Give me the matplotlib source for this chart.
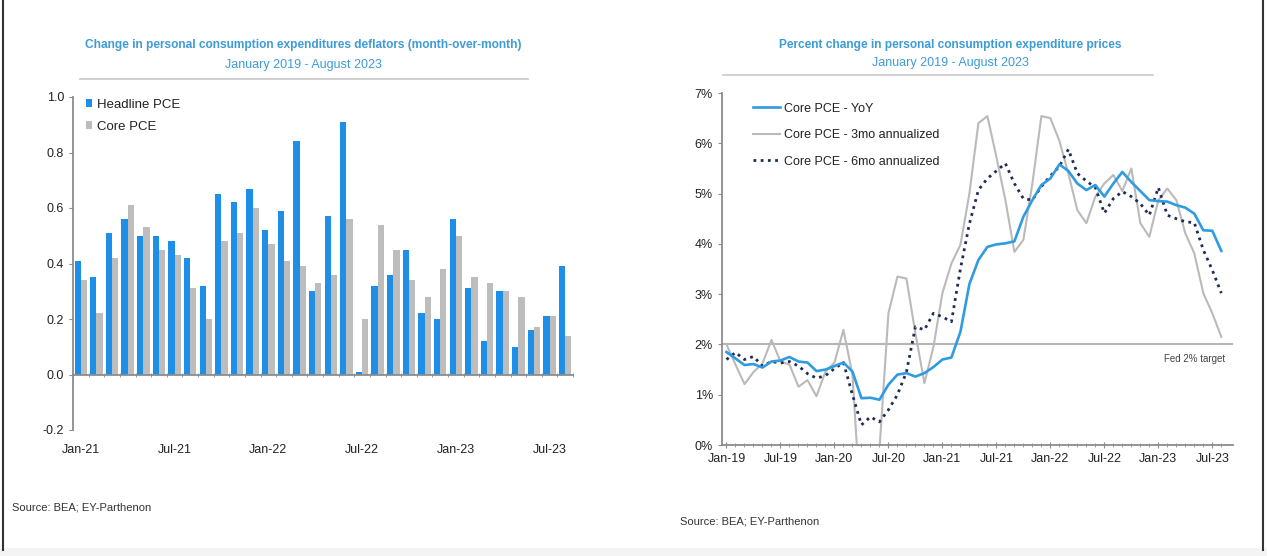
import numpy as np
import matplotlib.pyplot as plt
from matplotlib.lines import Line2D
from matplotlib.patches import Rectangle

plt.rcParams['font.family'] = ['Liberation Sans', 'DejaVu Sans']

# left chart: monthly change in PCE deflators, Jan-21 .. Aug-23
bar_labels = ['Jan-21', 'Jul-21', 'Jan-22', 'Jul-22', 'Jan-23', 'Jul-23']
headline = [0.41, 0.35, 0.51, 0.56, 0.50, 0.50, 0.48, 0.42, 0.32, 0.65, 0.62, 0.67,
            0.52, 0.59, 0.84, 0.30, 0.57, 0.91, 0.01, 0.32, 0.36, 0.45, 0.22, 0.20,
            0.56, 0.31, 0.12, 0.30, 0.10, 0.16, 0.21, 0.39]
core = [0.34, 0.22, 0.42, 0.61, 0.53, 0.45, 0.43, 0.31, 0.20, 0.48, 0.51, 0.60,
        0.47, 0.41, 0.39, 0.33, 0.36, 0.56, 0.20, 0.54, 0.45, 0.34, 0.28, 0.38,
        0.50, 0.35, 0.33, 0.30, 0.28, 0.17, 0.21, 0.14]

# right chart: percent change in core PCE prices, Jan-19 .. Aug-23
line_labels = ['Jan-19', 'Jul-19', 'Jan-20', 'Jul-20', 'Jan-21', 'Jul-21',
               'Jan-22', 'Jul-22', 'Jan-23', 'Jul-23']
yoy = [1.85, 1.72, 1.59, 1.61, 1.54, 1.66, 1.68, 1.75, 1.66, 1.64, 1.47, 1.50,
       1.57, 1.64, 1.46, 0.93, 0.94, 0.90, 1.20, 1.40, 1.43, 1.36, 1.43, 1.55,
       1.70, 1.74, 2.25, 3.20, 3.68, 3.94, 3.99, 4.01, 4.05, 4.54, 4.87, 5.17,
       5.30, 5.58, 5.45, 5.20, 5.07, 5.17, 4.94, 5.20, 5.43, 5.23, 5.05, 4.87,
       4.85, 4.84, 4.77, 4.72, 4.60, 4.27, 4.26, 3.86]
ann3 = [2.00, 1.60, 1.21, 1.45, 1.62, 2.09, 1.66, 1.60, 1.16, 1.29, 0.97, 1.46,
        1.64, 2.29, 1.40, -1.50, -1.00, -0.10, 2.62, 3.35, 3.31, 2.22, 1.23, 1.95,
        3.02, 3.61, 3.98, 5.00, 6.40, 6.54, 5.73, 4.87, 3.84, 4.08, 5.20, 6.54,
        6.50, 6.05, 5.40, 4.67, 4.41, 4.94, 5.20, 5.37, 5.05, 5.50, 4.41, 4.14,
        4.87, 5.10, 4.87, 4.21, 3.81, 3.02, 2.62, 2.15]
ann6 = [1.70, 1.84, 1.70, 1.76, 1.57, 1.66, 1.63, 1.66, 1.57, 1.42, 1.33, 1.38,
        1.52, 1.64, 1.00, 0.40, 0.56, 0.46, 0.70, 1.00, 1.45, 2.35, 2.29, 2.62,
        2.55, 2.45, 3.50, 4.40, 5.07, 5.30, 5.45, 5.60, 5.20, 4.90, 4.87, 5.14,
        5.35, 5.54, 5.88, 5.40, 5.25, 5.12, 4.61, 4.90, 5.04, 4.94, 4.80, 4.57,
        5.12, 4.57, 4.50, 4.44, 4.42, 3.88, 3.48, 3.02]

title_col = '#3d9bd6'
axis_col = '#8c8c8c'
text_col = '#222222'

fig = plt.figure(figsize=(12.67, 5.56), dpi=100)
W, H = 1267, 556

def px_axes(l, t, r, b):
    return fig.add_axes([l / W, 1 - b / H, (r - l) / W, (b - t) / H])

# ---------------- left chart ----------------
ax1 = px_axes(73, 97, 573, 430)
n = len(headline)
x = np.arange(n)
ax1.bar(x - 0.2, headline, width=0.4, color='#1e8fe8', label='Headline PCE')
ax1.bar(x + 0.2, core, width=0.4, color='#bdbdbd', label='Core PCE')
ax1.set_xlim(-0.5, n - 0.5)
ax1.set_ylim(-0.2, 1.0)
ax1.set_yticks(np.arange(-0.2, 1.01, 0.2))
ax1.set_yticklabels([f'{v:.1f}' for v in np.arange(-0.2, 1.01, 0.2)])
ax1.set_xticks(np.arange(0, n, 6))
ax1.set_xticklabels(bar_labels)
ax1.set_xticks(np.arange(-0.5, n, 1), minor=True)
for s in ['top', 'right']:
    ax1.spines[s].set_visible(False)
ax1.spines['bottom'].set_position(('data', 0))
for s in ['left', 'bottom']:
    ax1.spines[s].set_color(axis_col)
    ax1.spines[s].set_linewidth(1.3)
ax1.tick_params(axis='x', which='major', length=0, pad=50, labelsize=9, labelcolor=text_col)
ax1.tick_params(axis='x', which='minor', length=3, direction='inout', color=axis_col)
ax1.tick_params(axis='y', length=3, color=axis_col, labelsize=9, labelcolor=text_col)
ax1.legend(loc='upper left', bbox_to_anchor=(0.025, 0.995), frameon=False, fontsize=9.5,
           handlelength=0.5, handleheight=0.5, handletextpad=0.35, labelspacing=0.75,
           borderpad=0, borderaxespad=0, labelcolor=text_col)

fig.text(303 / W, 1 - 45 / H, 'Change in personal consumption expenditures deflators (month-over-month)',
         ha='center', va='center', fontsize=8.6, fontweight='bold', color=title_col)
fig.text(303 / W, 1 - 65 / H, 'January 2019 - August 2023', ha='center', va='center',
         fontsize=9, color=title_col)
fig.add_artist(Line2D([80 / W, 528 / W], [1 - 79 / H] * 2, color='#c8c8c8', lw=1.2))
fig.text(12 / W, 1 - 508 / H, 'Source: BEA; EY-Parthenon', ha='left', va='center',
         fontsize=8, color='#333333')

# ---------------- right chart ----------------
ax2 = px_axes(722, 93, 1233, 445)
m = np.arange(len(yoy))
ax2.axhline(2, color='#b5b5b5', lw=1.5, zorder=1)
ax2.plot(m, yoy, color='#2f9be0', lw=1.9, label='Core PCE - YoY', zorder=4)
ax2.plot(m, ann3, color='#bababa', lw=1.5, label='Core PCE - 3mo annualized', zorder=2)
ax2.plot(m, ann6, color='#1f2d55', lw=2.0, linestyle=(0, (1, 1.6)),
         label='Core PCE - 6mo annualized', zorder=3)
ax2.set_xlim(-0.5, len(yoy) + 0.3)
ax2.set_ylim(0, 7)
ax2.set_yticks(range(0, 8))
ax2.set_yticklabels([f'{v}%' for v in range(0, 8)])
ax2.set_xticks(np.arange(0, len(yoy), 6))
ax2.set_xticklabels(line_labels)
ax2.set_xticks(m, minor=True)
for s in ['top', 'right']:
    ax2.spines[s].set_visible(False)
for s in ['left', 'bottom']:
    ax2.spines[s].set_color(axis_col)
    ax2.spines[s].set_linewidth(1.3)
ax2.tick_params(axis='x', which='major', length=5, direction='inout', color=axis_col,
                labelsize=9, labelcolor=text_col, pad=3)
ax2.tick_params(axis='x', which='minor', length=3, direction='inout', color=axis_col)
ax2.tick_params(axis='y', length=3, color=axis_col, labelsize=9, labelcolor=text_col)
ax2.text(0.985, 1.72, 'Fed 2% target', transform=ax2.get_yaxis_transform(),
         ha='right', va='center', fontsize=7, color='#444444')
ax2.legend(loc='upper left', bbox_to_anchor=(0.06, 0.972), frameon=False, fontsize=9,
           handlelength=2.2, handletextpad=0.3, labelspacing=1.15,
           borderpad=0, borderaxespad=0, labelcolor=text_col)

fig.text(950 / W, 1 - 45 / H, 'Percent change in personal consumption expenditure prices',
         ha='center', va='center', fontsize=8.6, fontweight='bold', color=title_col)
fig.text(950 / W, 1 - 63 / H, 'January 2019 - August 2023', ha='center', va='center',
         fontsize=9, color=title_col)
fig.add_artist(Line2D([723 / W, 1153 / W], [1 - 75 / H] * 2, color='#c8c8c8', lw=1.2))
fig.text(680 / W, 1 - 522 / H, 'Source: BEA; EY-Parthenon', ha='left', va='center',
         fontsize=8, color='#333333')

# screenshot frame
fig.add_artist(Rectangle((0, 0), 1, 1 - 548 / H, transform=fig.transFigure,
                         color='#f4f4f4', zorder=-1))
fig.add_artist(Line2D([3 / W] * 2, [1 - 550 / H, 1], color='#333333', lw=1.5))
fig.add_artist(Line2D([1263 / W] * 2, [1 - 550 / H, 1], color='#333333', lw=1.5))

fig.savefig('out.png', dpi=100)
